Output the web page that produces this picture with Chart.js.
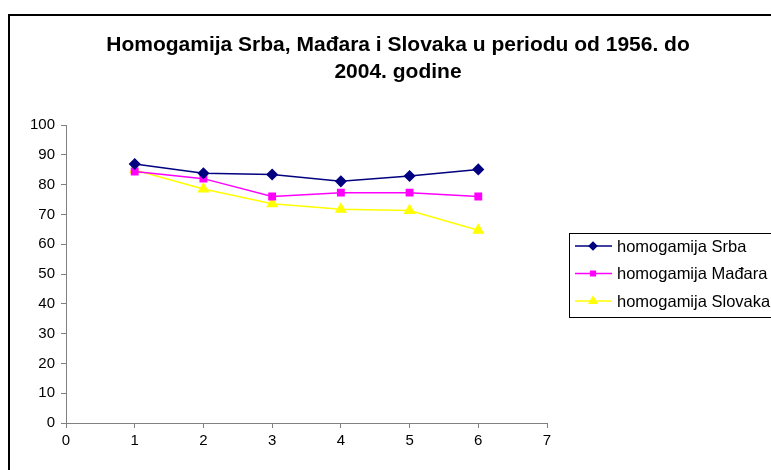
<!DOCTYPE html>
<html>
<head>
<meta charset="utf-8">
<script src="https://cdn.jsdelivr.net/npm/chart.js@4"></script>
<style>
  html, body { margin: 0; padding: 0; background: #fff; }
  canvas { display: block; }
</style>
</head>
<body>
<canvas id="homogamyChart" width="771" height="470"></canvas>
<script>
// x positions (1..6) and series values
const xValues = [1, 2, 3, 4, 5, 6];
const srbi = [86.9, 83.8, 83.4, 81.1, 82.9, 85.1];
const madjari = [84.4, 82.0, 76.0, 77.3, 77.3, 76.0];
const slovaci = [84.9, 78.5, 73.6, 71.7, 71.3, 64.7];
const seriesNames = ['homogamija Srba', 'homogamija Mađara', 'homogamija Slovaka'];
const titleLines = ['Homogamija Srba, Mađara i Slovaka u periodu od 1956. do', '2004. godine'];

const FONT = 'Arial, "Liberation Sans", sans-serif';

function toPoints(values) {
    return values.map((v, i) => ({ x: xValues[i], y: v }));
}

// Border, title and legend drawn like the spreadsheet chart
const frameAndLegend = {
    id: 'frameAndLegend',
    beforeDraw(chart) {
        const c = chart.ctx;
        c.save();
        c.fillStyle = '#fff';
        c.fillRect(0, 0, chart.width, chart.height);
        c.strokeStyle = '#000';
        c.lineWidth = 2;
        c.strokeRect(9, 15, 800, 500);
        c.restore();
    },
    afterDraw(chart) {
        const c = chart.ctx;
        c.save();
        // title
        c.fillStyle = '#000';
        c.font = 'bold 21px ' + FONT;
        c.textAlign = 'center';
        c.textBaseline = 'alphabetic';
        c.fillText(titleLines[0], 398, 51);
        c.fillText(titleLines[1], 398, 78);

        // legend box
        c.strokeStyle = '#000';
        c.lineWidth = 1;
        c.strokeRect(569.5, 233.5, 250, 84);
        c.font = '16.5px ' + FONT;
        c.textAlign = 'left';
        c.textBaseline = 'middle';
        chart.data.datasets.forEach((ds, i) => {
            const y = 246 + i * 27.5;
            c.strokeStyle = ds.borderColor;
            c.lineWidth = 1.5;
            c.beginPath();
            c.moveTo(575, y);
            c.lineTo(612, y);
            c.stroke();
            c.fillStyle = ds.pointBackgroundColor;
            c.strokeStyle = ds.borderColor;
            Chart.helpers.drawPoint(c, {
                pointStyle: ds.pointStyle,
                radius: ds.pointRadius - 1.2,
                borderWidth: 1
            }, 593, y);
            c.fillStyle = '#000';
            c.fillText(ds.label, 617, y + 1);
        });
        c.restore();
    }
};

new Chart(document.getElementById('homogamyChart'), {
    type: 'line',
    data: {
        datasets: [
            {
                label: seriesNames[0],
                data: toPoints(srbi),
                borderColor: '#000080',
                backgroundColor: '#000080',
                pointBackgroundColor: '#000080',
                pointStyle: 'rectRot',
                pointRadius: 5,
                borderWidth: 1.5
            },
            {
                label: seriesNames[1],
                data: toPoints(madjari),
                borderColor: '#FF00FF',
                backgroundColor: '#FF00FF',
                pointBackgroundColor: '#FF00FF',
                pointStyle: 'rect',
                pointRadius: 4.5,
                borderWidth: 1.5
            },
            {
                label: seriesNames[2],
                data: toPoints(slovaci),
                borderColor: '#FFFF00',
                backgroundColor: '#FFFF00',
                pointBackgroundColor: '#FFFF00',
                pointStyle: 'triangle',
                pointRadius: 5.5,
                borderWidth: 1.5
            }
        ]
    },
    options: {
        responsive: false,
        animation: false,
        layout: { padding: { left: 16, top: 125, right: 224, bottom: 17 } },
        plugins: {
            legend: { display: false },
            title: { display: false },
            tooltip: { enabled: false }
        },
        scales: {
            x: {
                type: 'linear',
                min: 0,
                max: 7,
                ticks: { stepSize: 1, color: '#000', font: { family: FONT, size: 15 }, padding: 4 },
                grid: { drawOnChartArea: false, tickLength: 5, color: '#808080' },
                border: { color: '#808080', width: 1 },
                afterFit(s) { s.height = 30; }
            },
            y: {
                min: 0,
                max: 100,
                ticks: { stepSize: 10, color: '#000', font: { family: FONT, size: 15 }, padding: 6 },
                grid: { drawOnChartArea: false, tickLength: 5, color: '#808080' },
                border: { color: '#808080', width: 1 },
                afterFit(s) { s.width = 50; }
            }
        }
    },
    plugins: [frameAndLegend]
});
</script>
</body>
</html>
